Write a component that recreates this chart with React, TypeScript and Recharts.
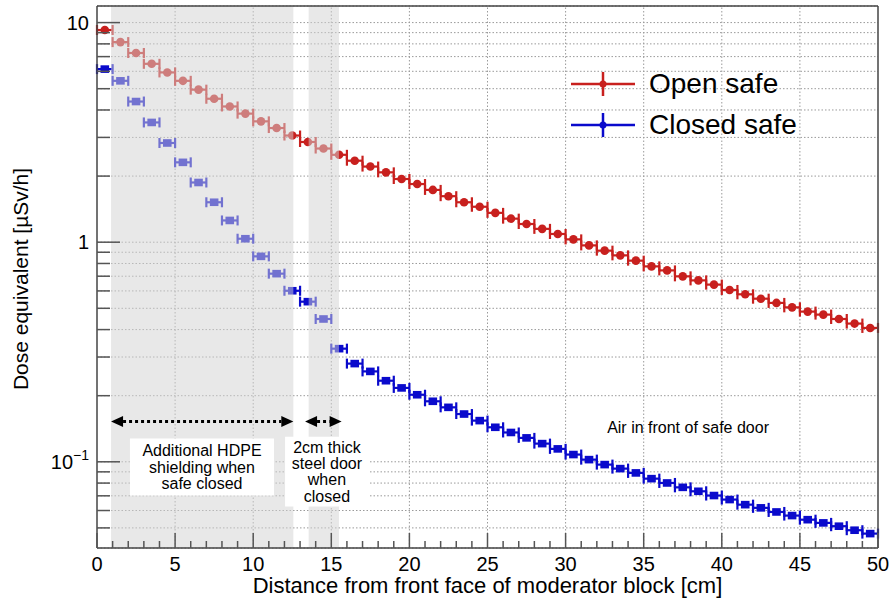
import { ScatterChart, Scatter, XAxis, YAxis, CartesianGrid, ReferenceArea, ReferenceLine, ReferenceDot, ErrorBar, Legend } from 'recharts';

const FONT = '"Liberation Sans", Arial, Helvetica, sans-serif';
const RED = '#c8201e';
const BLUE = '#0a0acc';

// bin centres [cm] and dose [uSv/h]
const BIN_CENTERS = [
    0.5, 1.5, 2.5, 3.5, 4.5, 5.5, 6.5, 7.5, 8.5, 9.5,
    10.5, 11.5, 12.5, 13.5, 14.5, 15.5, 16.5, 17.5, 18.5, 19.5,
    20.5, 21.5, 22.5, 23.5, 24.5, 25.5, 26.5, 27.5, 28.5, 29.5,
    30.5, 31.5, 32.5, 33.5, 34.5, 35.5, 36.5, 37.5, 38.5, 39.5,
    40.5, 41.5, 42.5, 43.5, 44.5, 45.5, 46.5, 47.5, 48.5, 49.5,
];
const BIN_HALF_WIDTH = 0.5;

const OPEN_SAFE = [
    9.25, 8.15, 7.27, 6.49, 5.93, 5.43, 4.95, 4.5, 4.15, 3.85,
    3.55, 3.31, 3.06, 2.86, 2.67, 2.5, 2.35, 2.21, 2.08, 1.94,
    1.84, 1.73, 1.62, 1.52, 1.45, 1.36, 1.28, 1.21, 1.15, 1.09,
    1.03, 0.967, 0.915, 0.871, 0.824, 0.776, 0.744, 0.699, 0.67, 0.641,
    0.606, 0.579, 0.553, 0.529, 0.505, 0.483, 0.468, 0.447, 0.426, 0.407,
];
const CLOSED_SAFE = [
    6.14, 5.43, 4.37, 3.51, 2.83, 2.31, 1.87, 1.52, 1.256, 1.037,
    0.862, 0.719, 0.601, 0.536, 0.447, 0.3275, 0.28, 0.258, 0.234, 0.217,
    0.202, 0.1886, 0.177, 0.165, 0.154, 0.1436, 0.136, 0.1285, 0.121, 0.1145,
    0.1079, 0.1023, 0.0971, 0.0931, 0.089, 0.0838, 0.0801, 0.0765, 0.0734, 0.0702,
    0.0673, 0.0638, 0.0617, 0.0591, 0.0569, 0.0545, 0.0527, 0.0509, 0.0488, 0.0471,
];

const SERIES_NAMES = ['Open safe', 'Closed safe'];

const X_TICKS = [
    0, 1, 2, 3, 4, 5, 6, 7, 8, 9, 10, 11, 12, 13, 14, 15, 16, 17, 18, 19, 20,
    21, 22, 23, 24, 25, 26, 27, 28, 29, 30, 31, 32, 33, 34, 35, 36, 37, 38, 39, 40,
    41, 42, 43, 44, 45, 46, 47, 48, 49, 50,
];
const X_GRID = [5, 10, 15, 20, 25, 30, 35, 40, 45];
const Y_TICKS = [
    0.05, 0.06, 0.07, 0.08, 0.09, 0.1, 0.2, 0.3, 0.4, 0.5, 0.6, 0.7, 0.8, 0.9,
    1, 2, 3, 4, 5, 6, 7, 8, 9, 10,
];
const X_DOMAIN = [0, 50];
const Y_DOMAIN = [0.0405, 11.9];

const openData = BIN_CENTERS.map((x, i) => ({ x, y: OPEN_SAFE[i], ex: BIN_HALF_WIDTH }));
const closedData = BIN_CENTERS.map((x, i) => ({ x, y: CLOSED_SAFE[i], ex: BIN_HALF_WIDTH }));

const isDecade = (v: number) => Math.abs(Math.log10(v) - Math.round(Math.log10(v))) < 1e-6;

const YTick = (props: any) => {
    const { x, y, payload } = props;
    const v = payload.value;
    const major = isDecade(v);
    let label = null;
    if (major) {
        const exp = Math.round(Math.log10(v));
        label = (
            <text x={x - 8} y={y + 7} textAnchor="end" fontSize={20} fontFamily={FONT} fill="#000">
                {exp === 1 ? '10' : exp === 0 ? '1' : (
                    <>
                        <tspan>10</tspan>
                        <tspan dy={-9} fontSize={14}>{'\u2212' + -exp}</tspan>
                    </>
                )}
            </text>
        );
    }
    return (
        <g>
            <line x1={x} x2={x + (major ? 23 : 13)} y1={y} y2={y} stroke="#555" strokeWidth={1.5} />
            {label}
        </g>
    );
};

const XTick = (props: any) => {
    const { x, y, payload } = props;
    const major = payload.value % 5 === 0;
    return (
        <g>
            <line x1={x} x2={x} y1={y} y2={y - (major ? 15 : 7)} stroke="#555" strokeWidth={1.5} />
            {major && (
                <text x={x} y={y + 23} textAnchor="middle" fontSize={20} fontFamily={FONT} fill="#000">
                    {payload.value}
                </text>
            )}
        </g>
    );
};

const circleShape = (props: any) => <circle cx={props.cx} cy={props.cy} r={4.3} fill={RED} />;
const squareShape = (props: any) => <rect x={props.cx - 4.3} y={props.cy - 3.8} width={8.6} height={7.6} fill={BLUE} />;

const boxLabel = (lines: string[]) => (props: any) => {
    const { x, y, width, height } = props.viewBox;
    const lh = 16.3;
    const top = y + height / 2 - ((lines.length - 1) * lh) / 2;
    return (
        <text textAnchor="middle" fontSize={16} fontFamily={FONT} fill="#000">
            {lines.map((l, i) => (
                <tspan key={i} x={x + width / 2} y={top + i * lh + 5.5}>{l}</tspan>
            ))}
        </text>
    );
};

const arrowShape = (props: any) => {
    const { x1, y1, x2 } = props;
    const hl = 12;
    const hh = 5.5;
    return (
        <g>
            <line x1={x1 + hl} x2={x2 - hl} y1={y1} y2={y1} stroke="#000" strokeWidth={3} strokeDasharray="3 3" />
            <polygon points={`${x1},${y1} ${x1 + hl},${y1 - hh} ${x1 + hl},${y1 + hh}`} fill="#000" />
            <polygon points={`${x2},${y1} ${x2 - hl},${y1 - hh} ${x2 - hl},${y1 + hh}`} fill="#000" />
        </g>
    );
};

const LegendContent = (props: any) => {
    const colorOf = (name: string) => {
        const hit = (props.payload || []).find((p: any) => p.value === name);
        return hit ? hit.color : name === SERIES_NAMES[0] ? RED : BLUE;
    };
    return (
        <div style={{ fontFamily: FONT, fontSize: 28, color: '#000' }}>
            {SERIES_NAMES.map((name) => (
                <div key={name} style={{ display: 'flex', alignItems: 'center', height: 41 }}>
                    <svg width={66} height={26}>
                        <line x1={1} x2={65} y1={13} y2={13} stroke={colorOf(name)} strokeWidth={2.5} />
                        <line x1={33} x2={33} y1={1} y2={25} stroke={colorOf(name)} strokeWidth={2.5} />
                        <circle cx={33} cy={13} r={3.5} fill={colorOf(name)} />
                    </svg>
                    <span style={{ marginLeft: 13 }}>{name}</span>
                </div>
            ))}
        </div>
    );
};

export default function App() {
    return (
        <div style={{ position: 'absolute', left: 0, top: 0, background: '#fff' }}>
            <ScatterChart width={891} height={603} margin={{ top: 6, right: 13, left: 0, bottom: 0 }}>
                <CartesianGrid vertical={false} stroke="#9a9a9a" strokeDasharray="1.5 2" />
                {X_GRID.map((g) => (
                    <ReferenceLine key={g} x={g} stroke="#9a9a9a" strokeDasharray="1.5 2" />
                ))}
                <XAxis
                    type="number"
                    dataKey="x"
                    domain={X_DOMAIN}
                    ticks={X_TICKS}
                    interval={0}
                    height={55}
                    tickSize={0}
                    tickMargin={0}
                    tickLine={false}
                    tick={XTick}
                    axisLine={{ stroke: '#444', strokeWidth: 1.5 }}
                    allowDataOverflow
                    zIndex={800}
                    label={(p: any) => (
                        <text x={p.viewBox.x + p.viewBox.width / 2} y={p.viewBox.y + 45} textAnchor="middle" fontSize={22} fontFamily={FONT} fill="#000">
                            Distance from front face of moderator block [cm]
                        </text>
                    )}
                />
                <YAxis
                    type="number"
                    dataKey="y"
                    scale="log"
                    domain={Y_DOMAIN}
                    ticks={Y_TICKS}
                    interval={0}
                    width={97}
                    tickSize={0}
                    tickMargin={0}
                    tickLine={false}
                    tick={YTick}
                    axisLine={{ stroke: '#444', strokeWidth: 1.5 }}
                    allowDataOverflow
                    zIndex={800}
                    label={(p: any) => {
                        const cx = p.viewBox.x + 28;
                        const cy = p.viewBox.y + p.viewBox.height / 2 + 2;
                        return (
                            <text x={cx} y={cy} transform={`rotate(-90, ${cx}, ${cy})`} textAnchor="middle" fontSize={21} fontFamily={FONT} fill="#000">
                                Dose equivalent [µSv/h]
                            </text>
                        );
                    }}
                />
                <Scatter name={SERIES_NAMES[0]} data={openData} fill={RED} shape={circleShape} isAnimationActive={false}>
                    <ErrorBar dataKey="ex" direction="x" width={5} strokeWidth={2.2} stroke={RED} />
                </Scatter>
                <Scatter name={SERIES_NAMES[1]} data={closedData} fill={BLUE} shape={squareShape} isAnimationActive={false}>
                    <ErrorBar dataKey="ex" direction="x" width={5} strokeWidth={2.2} stroke={BLUE} />
                </Scatter>
                <ReferenceArea x1={0.9} x2={12.57} fill="#d3d3d3" fillOpacity={0.52} stroke="none" zIndex={650} />
                <ReferenceArea x1={13.55} x2={15.49} fill="#d3d3d3" fillOpacity={0.52} stroke="none" zIndex={650} />
                <ReferenceArea
                    x1={2.11} x2={11.33} y1={0.0702} y2={0.1276}
                    fill="#fff" fillOpacity={1} stroke="none" zIndex={700}
                    label={boxLabel(['Additional HDPE', 'shielding when', 'safe closed'])}
                />
                <ReferenceArea
                    x1={12.04} x2={17.4} y1={0.0625} y2={0.13}
                    fill="#fff" fillOpacity={1} stroke="none" zIndex={700}
                    label={boxLabel(['2cm thick', 'steel door', 'when', 'closed'])}
                />
                <ReferenceLine segment={[{ x: 0.9, y: 0.1524 }, { x: 12.57, y: 0.1524 }]} shape={arrowShape} zIndex={750} />
                <ReferenceLine segment={[{ x: 13.32, y: 0.1524 }, { x: 15.66, y: 0.1524 }]} shape={arrowShape} zIndex={750} />
                <ReferenceDot
                    x={37.84} y={0.1431} r={0} fill="none" stroke="none" zIndex={750}
                    label={{ value: 'Air in front of safe door', position: 'center', fontSize: 16, fontFamily: FONT, fill: '#000' }}
                />
                <ReferenceLine y={Y_DOMAIN[1]} stroke="#444" strokeWidth={1.5} zIndex={800} />
                <ReferenceLine x={X_DOMAIN[1]} stroke="#444" strokeWidth={1.5} zIndex={800} />
                <Legend
                    layout="vertical"
                    align="center"
                    verticalAlign="middle"
                    content={LegendContent}
                    wrapperStyle={{ left: 570, top: 63, width: 300 }}
                />
            </ScatterChart>
        </div>
    );
}
